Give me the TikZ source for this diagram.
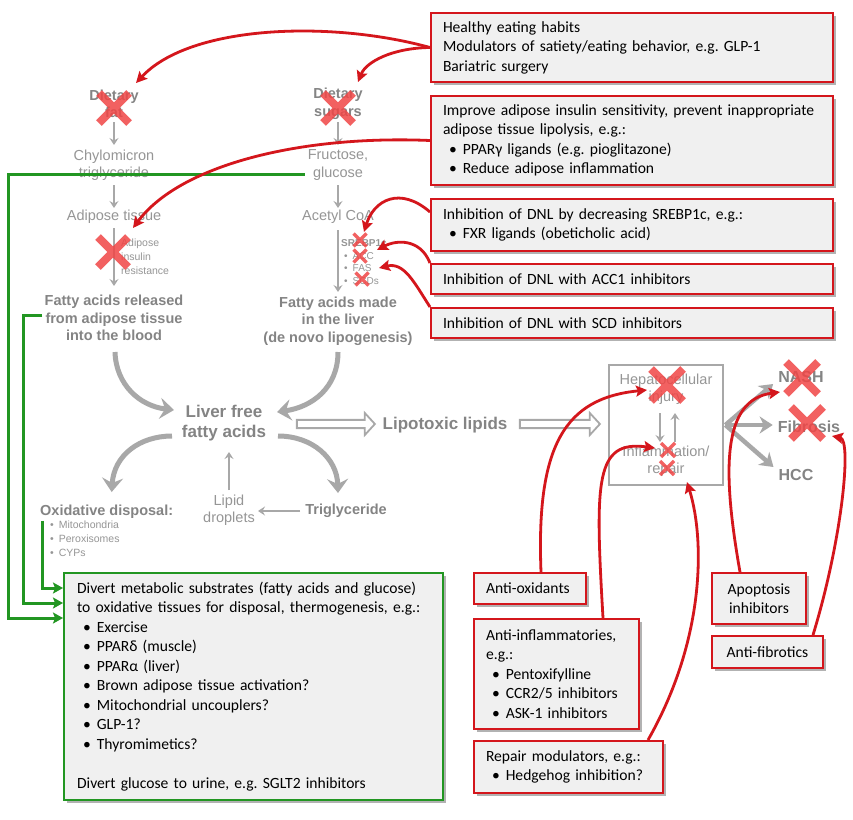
\documentclass[tikz,border=0pt]{standalone}
\usepackage{fontspec}
\setmainfont{Carlito}
\newfontfamily\arialf{Liberation Sans}
\usetikzlibrary{arrows.meta,shadows,shapes.arrows,calc}
\frenchspacing
\definecolor{gtxt}{RGB}{150,150,150}
\definecolor{gdark}{RGB}{132,132,132}
\definecolor{garr}{RGB}{168,168,168}
\definecolor{rline}{RGB}{212,22,28}
\definecolor{xred}{RGB}{240,70,70}
\definecolor{gline}{RGB}{34,150,34}
\definecolor{bfill}{RGB}{240,240,240}
\newcommand\bul{\hspace*{6pt}\textbullet\hspace{6pt}}
\newcommand\sbul{\hspace*{3pt}\textbullet\hspace{5pt}}
\newcommand\redx[4]{\draw[xmark,line width=#4pt] ({#1-#3},{#2-#3}) -- ({#1+#3},{#2+#3}) ({#1-#3},{#2+#3}) -- ({#1+#3},{#2-#3});}
\tikzset{
 gtext/.style={font=\arialf\fontsize{14.5}{17.5}\selectfont,text=gtxt,align=center,inner sep=0pt},
 gbtext/.style={font=\arialf\bfseries\fontsize{14.5}{17.5}\selectfont,text=gdark,align=center,inner sep=0pt},
 gsmall/.style={font=\arialf\fontsize{10.5}{13.8}\selectfont,text=gtxt,align=left,inner sep=0pt},
 glarge/.style={font=\arialf\bfseries\fontsize{17}{20}\selectfont,text=gdark,align=center,inner sep=0pt},
 gout/.style={font=\arialf\bfseries\fontsize{16}{19}\selectfont,text=gdark,inner sep=0pt},
 tarr/.style={draw=garr,line width=1.8pt,-{Stealth[length=7pt,width=9pt,inset=2.5pt]}},
 barr/.style={draw=garr,line width=5pt,-{Stealth[length=14pt,width=21pt,inset=5pt]}},
 oarr/.style={draw=garr,line width=4.5pt,-{Stealth[length=13pt,width=17pt,inset=4pt]}},
 rconn/.style={draw=rline,line width=2.8pt,-{Stealth[length=11pt,width=11pt,inset=2pt]}},
 gconn/.style={draw=gline,line width=3pt,-{Stealth[length=10pt,width=11pt,inset=2pt]}},
 xmark/.style={draw=xred,opacity=0.85,line cap=butt},
 rbox/.style={draw=rline,line width=2pt,fill=bfill,anchor=north west,inner xsep=12pt,inner ysep=0pt,align=left,font=\fontsize{15.6}{19.5}\selectfont,drop shadow={shadow xshift=2.5pt,shadow yshift=-2.5pt,fill=black,opacity=0.3}},
 gbox/.style={draw=gline,line width=2.2pt,fill=bfill,anchor=north west,inner xsep=13pt,inner ysep=0pt,align=left,font=\fontsize{15.6}{19.5}\selectfont,drop shadow={shadow xshift=2.5pt,shadow yshift=-2.5pt,fill=black,opacity=0.3}},
 hollow/.style={single arrow,draw=garr,line width=1.8pt,fill=white,inner xsep=0pt,inner ysep=3pt,single arrow head extend=6.5pt,single arrow tip angle=95,minimum width=22pt}
}
\begin{document}
\begin{tikzpicture}[x=1pt,y=-1pt]
\useasboundingbox (0,0) rectangle (853,819);
\fill[white] (0,0) rectangle (853,819);

% gray pathway text
\node[gbtext] (fat) at (114,104) {Dietary\\fat};
\node[gbtext] (sug) at (338,104) {Dietary\\sugars};
\node[gtext] (chy) at (114,165) {Chylomicron\\triglyceride};
\node[gtext] (fru) at (338,165) {Fructose,\\glucose};
\node[gtext] (adi) at (114,217) {Adipose tissue};
\node[gtext] (acc) at (338,217) {Acetyl CoA};
\node[gsmall,anchor=west] (air) at (121,257) {Adipose\\insulin\\resistance};
\node[gsmall,anchor=west,font=\arialf\fontsize{10}{12.6}\selectfont] (sre) at (341,262) {\textbf{SREBP1c}\\\sbul ACC\\\sbul FAS\\\sbul SCDs};
\node[gbtext] (far) at (114,318) {Fatty acids released\\from adipose tissue\\into the blood};
\node[gbtext] (fam) at (338,321) {Fatty acids made\\in the liver\\(de novo lipogenesis)};
\node[glarge] (lff) at (224,423) {Liver free\\fatty acids};
\node[glarge] (lip) at (445,425) {Lipotoxic lipids};
\node[gtext] (lpd) at (229,510) {Lipid\\droplets};
\node[gbtext] (tri) at (346,511) {Triglyceride};
\node[gbtext,anchor=west] (oxd) at (40,512) {Oxidative disposal:};
\node[gsmall,anchor=west,font=\arialf\fontsize{10.5}{14}\selectfont] (oxl) at (47,539) {\sbul Mitochondria\\\sbul Peroxisomes\\\sbul CYPs};

% liver box and outcomes
\node[draw=garr,line width=2.8pt,minimum width=114pt,minimum height=120pt,inner sep=0pt] (gb) at (666,425) {};
\node[gtext] (hep) at (666,389) {Hepatocellular\\injury};
\node[gtext] (inf) at (666,461) {Inflammation/\\repair};
\node[gout] (nash) at (801,377) {NASH};
\node[gout] (fib) at (809,427) {Fibrosis};
\node[gout] (hcc) at (796,475) {HCC};

% thin arrows
\draw[tarr] ($(fat)+(0,18)$) -- ($(chy)+(0,-20)$);
\draw[tarr] ($(chy)+(0,20)$) -- ($(adi)+(0,-9)$);
\draw[tarr] ($(adi)+(0,11)$) -- ($(far)+(0,-32)$);
\draw[tarr] ($(sug)+(0,18)$) -- ($(fru)+(0,-20)$);
\draw[tarr] ($(fru)+(0,20)$) -- ($(acc)+(0,-9)$);
\draw[tarr] ($(acc)+(0,13)$) -- ($(fam)+(0,-29)$);
\draw[tarr] ($(lpd)+(0,-20)$) -- ($(lff)+(5,29)$);
\draw[tarr] ($(tri.west)+(-5,0)$) -- ($(lpd.east)+(3,1)$);
\draw[tarr] ($(hep)+(-6,24)$) -- ($(inf)+(-6,-19)$);
\draw[tarr] ($(inf)+(9,-19)$) -- ($(hep)+(9,24)$);

% big curved arrows
\draw[barr] ($(far)+(1,34)$) .. controls (116,385) and (140,406) .. ($(lff)+(-50,-13)$);
\draw[barr] ($(fam)+(0,31)$) .. controls (338,388) and (312,407) .. ($(lff)+(53,-11)$);
\draw[barr] ($(lff)+(-52,13)$) .. controls (140,436) and (114,455) .. ($(oxd)+(5,-20)$);
\draw[barr] ($(lff)+(54,13)$) .. controls (312,436) and (337,458) .. ($(tri)+(-8,-18)$);

% hollow arrows
\node[hollow,minimum height=78pt] (ha1) at (334,424) {};
\node[hollow,minimum height=80pt] (ha2) at (558,424) {};

% outcome arrows
\coordinate (ob) at ($(gb.east)+(1,0)$);
\draw[oarr] (ob) -- ($(nash.west)+(-5,7)$);
\draw[oarr] (ob) -- ($(fib.west)+(-5,-2)$);
\draw[oarr] (ob) -- ($(hcc.west)+(-5,-8)$);

% red X marks
\redx{114}{108}{15}{8}
\redx{338}{108}{15}{8}
\redx{113}{252}{15}{8}
\redx{360}{240}{6.5}{3.5}
\redx{360}{256}{6.5}{3.5}
\redx{362}{279}{6.5}{3.5}
\redx{667}{385}{16}{8}
\redx{668}{450}{7}{3.5}
\redx{667}{468}{7}{3.5}
\redx{802}{378}{16}{8}
\redx{807}{423}{16}{8}

% red boxes
\node[rbox,text width=378pt,minimum height=69pt] (b1) at (430,12) {Healthy eating habits\\Modulators of satiety/eating behavior, e.g. GLP-1\\Bariatric surgery};
\node[rbox,text width=378pt,minimum height=89pt] (b2) at (430,95) {Improve adipose insulin sensitivity, prevent inappropriate\\adipose tissue lipolysis, e.g.:\\\bul PPARγ ligands (e.g. pioglitazone)\\\bul Reduce adipose inflammation};
\node[rbox,text width=378pt,minimum height=52pt] (b3) at (430,198) {Inhibition of DNL by decreasing SREBP1c, e.g.:\\\bul FXR ligands (obeticholic acid)};
\node[rbox,text width=378pt,minimum height=30pt] (b4) at (430,263) {Inhibition of DNL with ACC1 inhibitors};
\node[rbox,text width=378pt,minimum height=30pt] (b5) at (430,307) {Inhibition of DNL with SCD inhibitors};
\node[rbox,text width=88pt,minimum height=31pt] (bao) at (473,572) {Anti-oxidants};
\node[rbox,text width=141pt,minimum height=110pt] (bai) at (473,618) {Anti-inflammatories,\\e.g.:\\\bul Pentoxifylline\\\bul CCR2/5 inhibitors\\\bul ASK-1 inhibitors};
\node[rbox,text width=165pt,minimum height=52pt] (brm) at (473,740) {Repair modulators, e.g.:\\\bul Hedgehog inhibition?};
\node[rbox,text width=70pt,minimum height=51pt,align=center] (bap) at (711,572) {Apoptosis\\inhibitors};
\node[rbox,text width=87pt,minimum height=32pt,align=center] (baf) at (711,635) {Anti-fibrotics};

% green box
\node[gbox,text width=353pt,minimum height=227pt] (gbx) at (63,572) {Divert metabolic substrates (fatty acids and glucose)\\to oxidative tissues for disposal, thermogenesis, e.g.:\\\bul Exercise\\\bul PPARδ (muscle)\\\bul PPARα (liver)\\\bul Brown adipose tissue activation?\\\bul Mitochondrial uncouplers?\\\bul GLP-1?\\\bul Thyromimetics?\\[19.5pt]Divert glucose to urine, e.g. SGLT2 inhibitors};

% green connectors
\coordinate (gx1) at (8,0);
\coordinate (gx2) at (23,0);
\draw[gconn] ($(oxd.south west)+(2,2)$) |- ($(gbx.north west)+(0,16)$);
\draw[gconn] ($(far.west)+(-2,-3)$) coordinate (s2) -- (s2 -| gx2) |- ($(gbx.north west)+(0,31)$);
\draw[gconn] ($(fru.west)+(-3,9)$) coordinate (s3) -- (s3 -| gx1) |- ($(gbx.north west)+(0,46)$);

% red connectors
\draw[rconn] (b1.west) .. controls (330,20) and (190,25) .. ($(fat)+(22,-21)$);
\draw[rconn] (b1.west) .. controls (392,48) and (366,62) .. ($(sug)+(20,-22)$);
\draw[rconn] (b2.west) .. controls (300,135) and (180,165) .. ($(adi)+(19,11)$);
\draw[rconn] ($(b3.north west)+(0,14)$) .. controls (400,186) and (374,200) .. ($(acc)+(26,15)$);
\draw[rconn] (b4.north west) .. controls (420,238) and (396,240) .. ($(sre.west)+(36,-12)$);
\draw[rconn] (b5.north west) .. controls (414,282) and (404,262) .. ($(sre.west)+(38,6)$);
\draw[rconn] ($(bao.north west)+(68,0)$) .. controls (536,445) and (565,398) .. ($(hep)+(-19,1)$);
\draw[rconn] ($(bai.north west)+(130,0)$) .. controls (595,480) and (595,440) .. ($(inf)+(-11,-13)$);
\draw[rconn] ($(brm.north west)+(175,0)$) .. controls (705,640) and (705,540) .. ($(inf)+(21,21)$);
\draw[rconn] ($(bap.north west)+(29,0)$) .. controls (722,470) and (722,400) .. ($(nash)+(-21,15)$);
\draw[rconn] ($(baf.north west)+(102,0)$) .. controls (842,540) and (852,440) .. ($(fib)+(23,9)$);
\end{tikzpicture}
\end{document}
